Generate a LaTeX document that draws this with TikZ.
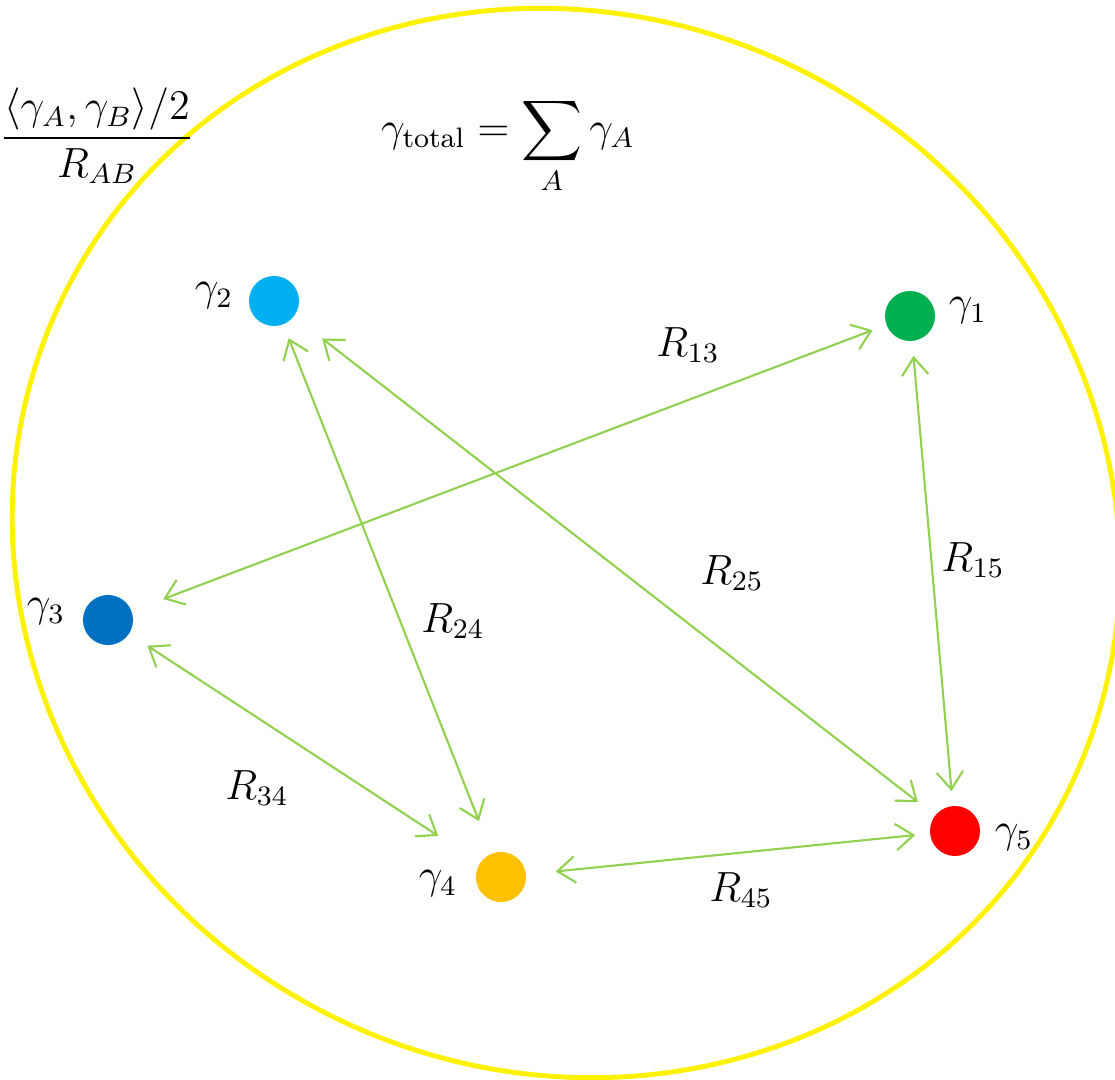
\documentclass[tikz,border=0pt]{standalone}
\usepackage{amsmath}
\usepackage{tikz}
\usetikzlibrary{arrows.meta}

\definecolor{edgegreen}{HTML}{92D050}
\definecolor{ptgreen}{HTML}{00B050}
\definecolor{ptcyan}{HTML}{00B0F0}
\definecolor{ptblue}{HTML}{0070C0}
\definecolor{ptorange}{HTML}{FFC000}
\definecolor{ptred}{HTML}{FF0000}

\begin{document}
\begin{tikzpicture}[> = {Straight Barb[length=5pt,width=7.5pt]}, x=0.01cm, y=-0.01cm,
    font=\large,
    pt/.style = {circle, minimum size=0.5cm, inner sep=0pt, outer sep=0.15cm, fill=#1},
    link/.style = {<->, draw=edgegreen, line width=0.6pt}]
    \useasboundingbox (0,0) rectangle (1115,1080);

    \draw[yellow, line width=1.4pt, rotate around={-26.7:(566,543)}]
      (566,543) ellipse [x radius=560, y radius=528];

    \node at (97,136) (frac) {$\dfrac{\langle\gamma_A,\gamma_B\rangle/2}{R_{AB}}$};
    \node at (508,146) (total) {$\displaystyle\gamma_{\text{total}} = \sum_A \gamma_A$};

    \node[pt=ptgreen] (1) at (910,316) {};
    \node[pt=ptcyan] (2) at (274,301) {};
    \node[pt=ptblue] (3) at (108,620) {};
    \node[pt=ptorange] (4) at (501,877) {};
    \node[pt=ptred] (5) at (955,831) {};

    \node (g1) at (968,311) {$\gamma_1$};
    \node (g2) at (214,296) {$\gamma_2$};
    \node (g3) at (46,612) {$\gamma_3$};
    \node (g4) at (438,884) {$\gamma_4$};
    \node (g5) at (1014,838) {$\gamma_5$};

    \path (1) edge [link, shorten >=0.19cm] (3)
    (2) edge [link, shorten <=0.21cm, shorten >=0.07cm] (5)
    (2) edge [link, shorten >=0.2cm] (4)
    (1) edge [link] (5)
    (3) edge [link, shorten <=0.07cm, shorten >=0.35cm] (4)
    (4) edge [link, shorten <=0.15cm] (5);

    \node (r13) at (688,345) {$R_{13}$};
    \node (r25) at (732,573) {$R_{25}$};
    \node (r24) at (453,621) {$R_{24}$};
    \node (r15) at (973,560) {$R_{15}$};
    \node (r34) at (257,788) {$R_{34}$};
    \node (r45) at (741,890) {$R_{45}$};
  \end{tikzpicture}
\end{document}
